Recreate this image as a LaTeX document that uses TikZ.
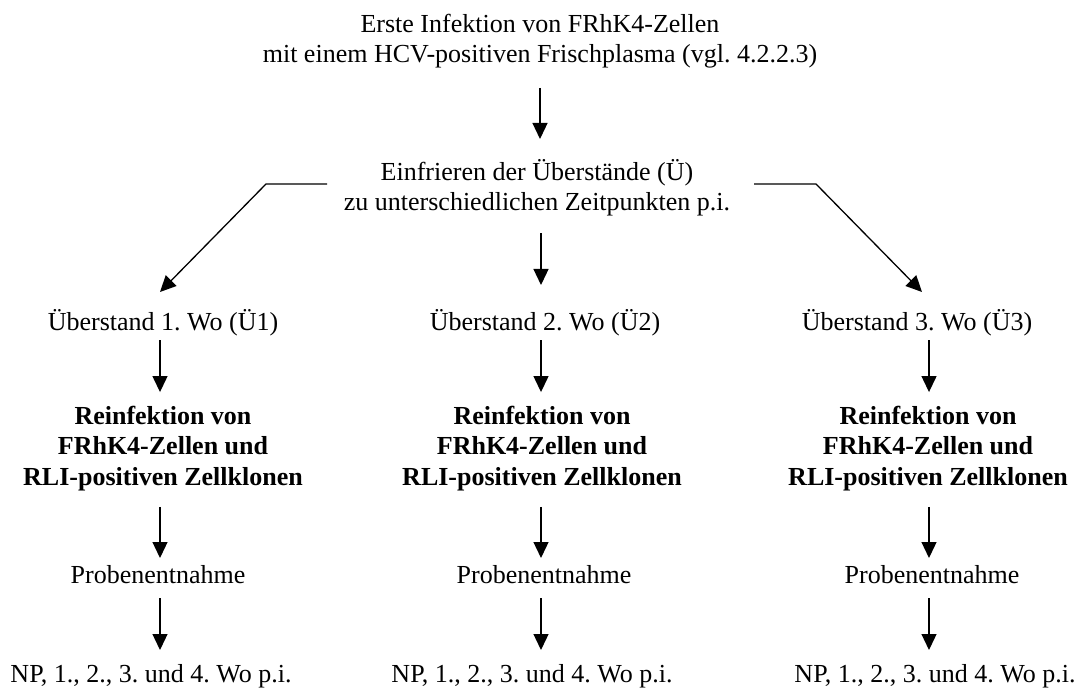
\documentclass[tikz,border=0pt]{standalone}
\usepackage{fontspec}
\setmainfont{Liberation Serif}
\usetikzlibrary{arrows.meta}
\frenchspacing
\begin{document}
\begin{tikzpicture}[x=0.5pt,y=-0.5pt,
  lbl/.style={inner sep=0pt,outer sep=0pt,anchor=north,align=center,font=\fontsize{13}{15}\selectfont\frenchspacing},
  blbl/.style={inner sep=0pt,outer sep=0pt,anchor=north,align=center,font=\fontsize{13}{15.25}\selectfont\bfseries\frenchspacing},
  ln/.style={line width=0.65pt},
  arr/.style={ln,-{Triangle[length=8pt,width=7.5pt]}}]
\useasboundingbox (0,0) rectangle (1080,689);
% nodes
\node[lbl] (top) at (540,12) {\strut Erste Infektion von FRhK4-Zellen\\mit einem HCV-positiven Frischplasma (vgl. 4.2.2.3)\strut};
\node[lbl] (einf) at (537,159) {\strut Einfrieren der Überstände (Ü)\\zu unterschiedlichen Zeitpunkten p.i.\strut};
\node[lbl] (u1) at (163,309) {\strut Überstand 1. Wo (Ü1)};
\node[lbl] (u2) at (545,309) {\strut Überstand 2. Wo (Ü2)};
\node[lbl] (u3) at (917,309) {\strut Überstand 3. Wo (Ü3)};
\node[blbl] (r1) at (163,402.65) {\strut Reinfektion von\\FRhK4-Zellen und\\RLI-positiven Zellklonen\strut};
\node[blbl] (r2) at (542,402.65) {\strut Reinfektion von\\FRhK4-Zellen und\\RLI-positiven Zellklonen\strut};
\node[blbl] (r3) at (928,402.65) {\strut Reinfektion von\\FRhK4-Zellen und\\RLI-positiven Zellklonen\strut};
\node[lbl] (p1) at (158,562) {\strut Probenentnahme};
\node[lbl] (p2) at (544,562) {\strut Probenentnahme};
\node[lbl] (p3) at (932,562) {\strut Probenentnahme};
\node[lbl] (n1) at (151,661) {\strut NP, 1., 2., 3. und 4. Wo p.i.};
\node[lbl] (n2) at (532,661) {\strut NP, 1., 2., 3. und 4. Wo p.i.};
\node[lbl] (n3) at (935,661) {\strut NP, 1., 2., 3. und 4. Wo p.i.};
% column axes
\coordinate (cm) at (541,0);
\coordinate (cx1) at (160,0);
\coordinate (cx2) at (541,0);
\coordinate (cx3) at (929,0);
% branch corners
\coordinate (bl1) at (327,184);
\coordinate (bl2) at (266,184);
\coordinate (tl) at (160,292);
\coordinate (br1) at (754,184);
\coordinate (br2) at (816,184);
\coordinate (tr) at (922,292);
% connectors
\draw[arr,shorten <=8pt,shorten >=10pt] (top.south) -- (top.south |- einf.north);
\draw[arr,shorten <=7pt,shorten >=12pt] (cm |- einf.south) -- (cm |- u2.north);
\draw[arr] (bl1) -- (bl2) -- (tl);
\draw[arr] (br1) -- (br2) -- (tr);
\foreach \i in {1,2,3} {
  \draw[arr,shorten <=0.5pt,shorten >=5.3pt] (cx\i |- u\i.south) -- (cx\i |- r\i.north);
  \draw[arr,shorten <=6.4pt,shorten >=2pt] (cx\i |- r\i.south) -- (cx\i |- p\i.north);
  \draw[arr,shorten <=3pt,shorten >=5.5pt] (cx\i |- p\i.south) -- (cx\i |- n\i.north);
}
\end{tikzpicture}
\end{document}
